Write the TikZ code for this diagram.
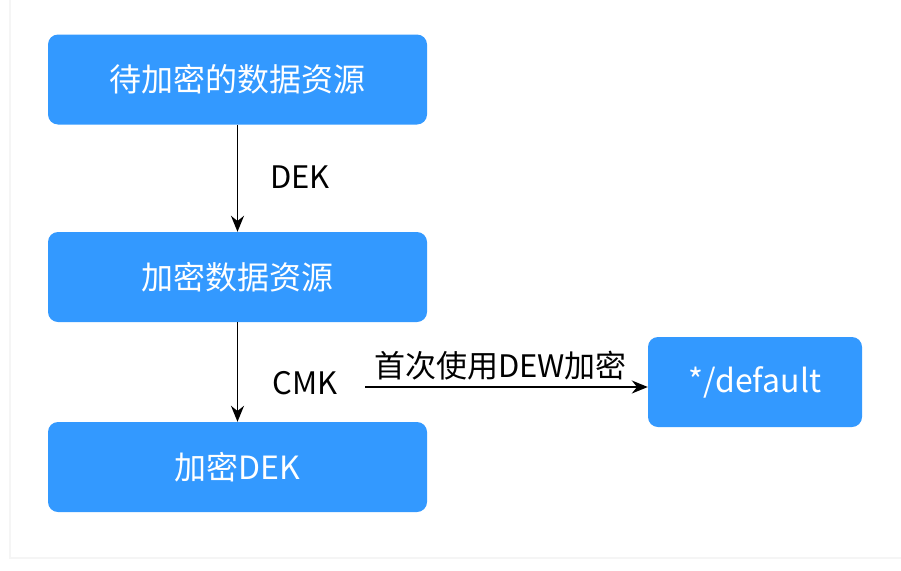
\documentclass[tikz,border=0pt]{standalone}
\usepackage{fontspec}
\setmainfont{Noto Sans CJK SC}
\usetikzlibrary{arrows.meta}
\definecolor{boxblue}{HTML}{3399FF}
\tikzset{
    keybox/.style={fill=boxblue,rounded corners=10pt,text=white,minimum height=90pt,inner sep=0pt,font=\fontsize{32}{36}\selectfont},
    flow/.style={line width=1.8pt,-{Stealth[length=16pt,width=13pt]}},
    lbl/.style={font=\fontsize{31}{36}\selectfont,inner sep=0pt}
}
\begin{document}
\begin{tikzpicture}[x=1pt,y=-1pt]
        \def\bx{237.5}
        \def\bw{379pt}
        \useasboundingbox (0,0) rectangle (901,570);
        \draw[black!4,line width=1.5pt] (10,0) -- (10,558) -- (901,558);
        \node[keybox,minimum width=\bw] (src) at (\bx,79.5) {待加密的数据资源};
        \node[keybox,minimum width=\bw] (enc) at (\bx,277) {加密数据资源};
        \node[keybox,minimum width=\bw] (dek) at (\bx,467) {加密DEK};
        \node[keybox,minimum width=214pt] (dflt) at (755,382) {*/default};
        \draw[flow] (src) -- (enc);
        \draw[flow] (enc) -- (dek);
        \node[lbl] (deklbl) at (300,177) {DEK};
        \node[lbl] (cmklbl) at (305,383) {CMK};
        \coordinate (start) at (365,387);
        \draw[flow] (start) -- (start -| dflt.west) node[midway,above=6pt,lbl,xshift=-6pt] (first) {首次使用DEW加密};
        \end{tikzpicture}
\end{document}
